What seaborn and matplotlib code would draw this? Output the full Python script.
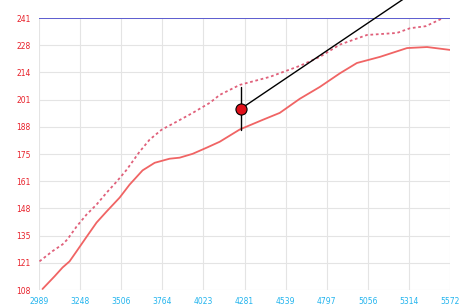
import numpy as np
import pandas as pd
import matplotlib
matplotlib.use("Agg")
import matplotlib.pyplot as plt
import seaborn as sns

# tick labels as printed on the chart
x_labels = ["2989", "3248", "3506", "3764", "4023", "4281", "4539", "4797", "5056", "5314", "5572"]
y_labels = ["108", "121", "135", "148", "161", "175", "188", "201", "214", "228", "241"]

# solid curve
solid_x = [3011, 3087, 3137, 3181, 3225, 3288, 3351, 3414, 3496, 3558, 3640, 3716, 3810,
           3873, 3955, 4043, 4125, 4251, 4395, 4502, 4628, 4754, 4881, 4987, 5132, 5302,
           5428, 5572]
solid_y = [108.5, 114.7, 119, 122, 126.9, 134, 141, 146.4, 153.2, 159.5, 166.5, 170.2, 172.2,
           172.7, 174.6, 177.6, 180.5, 186.5, 191.2, 194.6, 201.5, 207.3, 214, 219, 222, 226.3,
           226.8, 225.4]

# dashed curve
dash_x = [2992, 3074, 3137, 3168, 3225, 3288, 3351, 3414, 3477, 3540, 3621, 3684, 3760,
          3854, 3955, 4062, 4125, 4251, 4439, 4628, 4754, 4880, 5050, 5239, 5321, 5420, 5529]
dash_y = [122, 127, 130.3, 132.8, 139, 144.9, 149.8, 155.6, 161, 166.8, 175.6, 181.5, 186.4,
          190.3, 194.6, 199.5, 203.4, 208.3, 212.2, 217.6, 222, 228, 232.7, 233.7, 236, 237, 241]

limit_y = 241          # blue limit line
marker_x = 4257        # red point and its bar
marker_y = 196.6
bar_lo, bar_hi = 186.4, 207.3
pointer_end = (5360, 254.5)

df_solid = pd.DataFrame({"x": solid_x, "y": solid_y})
df_dash = pd.DataFrame({"x": dash_x, "y": dash_y})

sns.set_style("white")
fig = plt.figure(figsize=(4.62, 3.07), dpi=100)
ax = fig.add_axes([39 / 462, 1 - 290 / 307, 411 / 462, 272 / 307])

x_ticks = np.linspace(int(x_labels[0]), int(x_labels[-1]), len(x_labels))
y_ticks = np.linspace(int(y_labels[0]), int(y_labels[-1]), len(y_labels))

ax.set_xlim(x_ticks[0], x_ticks[-1])
ax.set_ylim(y_ticks[0], y_ticks[-1])
ax.set_xticks(x_ticks)
ax.set_xticklabels(x_labels)
ax.set_yticks(y_ticks)
ax.set_yticklabels(y_labels)
ax.grid(True, color="#e4e4e4", linewidth=0.8)
ax.set_axisbelow(True)
for s in ax.spines.values():
    s.set_visible(False)
ax.tick_params(axis="both", length=0, labelsize=5.5)
ax.tick_params(axis="x", colors="#22b4ee", pad=5)
ax.tick_params(axis="y", colors="#e8202a", pad=6)

sns.lineplot(data=df_dash, x="x", y="y", ax=ax, color="#e0607a", linewidth=1.3,
             linestyle=(0, (1.5, 1.5)))
sns.lineplot(data=df_solid, x="x", y="y", ax=ax, color="#f06464", linewidth=1.3)
ax.axhline(limit_y, color="#5c5cd0", linewidth=1.4)

# pointer line + bar + marker
ax.plot([marker_x, pointer_end[0]], [marker_y, pointer_end[1]], color="black",
        linewidth=1.0, clip_on=False)
ax.plot([marker_x, marker_x], [bar_lo, bar_hi], color="black", linewidth=1.0)
ax.plot([marker_x], [marker_y], marker="o", markersize=8, color="#e0101a",
        markeredgecolor="black", markeredgewidth=0.8)

ax.set_xlabel("")
ax.set_ylabel("")
fig.savefig("out.png", dpi=100)
